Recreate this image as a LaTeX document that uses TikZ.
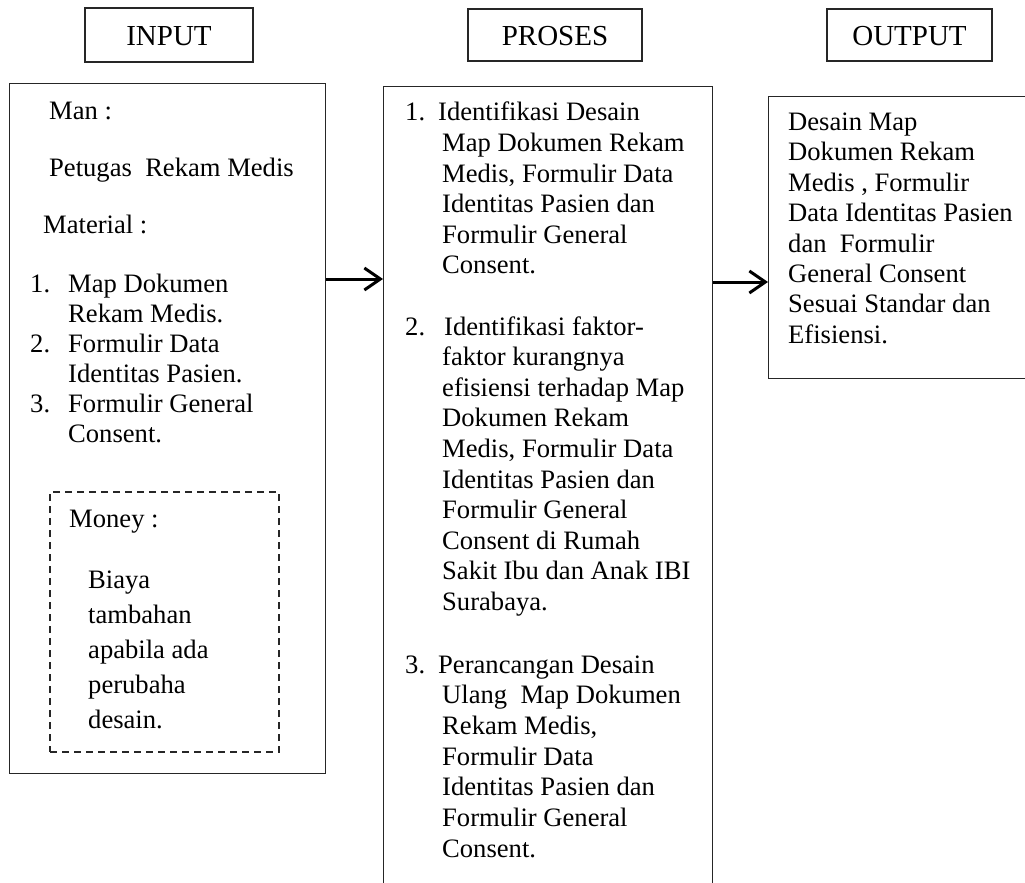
\documentclass[tikz,border=0pt]{standalone}
\usepackage{fontspec}
\setmainfont{Liberation Serif}
\usetikzlibrary{arrows.meta}
\begin{document}
\begin{tikzpicture}[x=1pt,y=-1pt,
 box/.style={draw=black!85, line width=1.3pt, inner sep=0pt, anchor=north west},
 titlebox/.style={draw=black!85, line width=1.3pt, inner sep=0pt, text height=21pt, text depth=0pt, font=\fontsize{29}{33}\selectfont},
 txt/.style={inner sep=0pt, anchor=base west, font=\fontsize{26.6}{30}\selectfont},
 arr/.style={line width=3pt, -{Straight Barb[length=16pt,width=22pt,line width=3pt]}}
]
\useasboundingbox (0,0) rectangle (1025,883);
\clip (0,0) rectangle (1025,883);

% titles
\node[titlebox, minimum width=168pt, minimum height=54pt] (tin) at (169,35) {INPUT};
\node[titlebox, minimum width=174pt, minimum height=52pt] (tpr) at (555,35) {PROSES};
\node[titlebox, minimum width=165pt, minimum height=52pt] (tout) at (909.5,35) {OUTPUT};

% boxes
\node[box, minimum width=316pt, minimum height=690pt] (inbox) at (9,83) {};
\node[box, line width=2pt, dash pattern=on 7pt off 5pt, minimum width=229pt, minimum height=260pt] (money) at (49,491) {};
\node[box, minimum width=329pt, minimum height=830pt] (prbox) at (383,86) {};
\node[box, minimum width=300pt, minimum height=282pt] (outbox) at (768,96) {};

% arrows
\draw[arr] ([yshift=-196pt]inbox.north east) -- ([yshift=-193pt]prbox.north west);
\draw[arr] ([yshift=-196pt]prbox.north east) -- ([yshift=-186pt]outbox.north west);

% input text
\node[txt] (man) at (49,119) {Man :};
\node[txt] (pet) at (49,176) {Petugas\ \ Rekam Medis};
\node[txt] (mat) at (43,233) {Material :};
\node[txt] (in1) at (30,292) {1.};
\node[txt] (in2) at (30,352) {2.};
\node[txt] (in3) at (30,412) {3.};
\foreach \t [count=\i] in {{Map Dokumen},{Rekam Medis.},{Formulir Data},{Identitas Pasien.},{Formulir General},{Consent.}}
  \node[txt] (inl\i) at (68,{262+\i*30}) {\t};

% money
\node[txt] (mon) at (69,527) {Money :};
\foreach \t [count=\i] in {{Biaya},{tambahan},{apabila ada},{perubaha},{desain.}}
  \node[txt] (monl\i) at (88,{553+\i*35}) {\t};

% proses text
\node[txt] (pn1) at (405,120) {1.};
\node[txt] (pn2) at (405,335) {2.};
\node[txt] (pn3) at (405,673) {3.};
\node[txt] (pa0) at (438,120) {Identifikasi Desain};
\foreach \t [count=\i] in {{Map Dokumen Rekam},{Medis, Formulir Data},{Identitas Pasien dan},{Formulir General},{Consent.}}
  \node[txt] (pa\i) at (442,{121+\i*30.5}) {\t};
\node[txt] (pb0) at (444,335) {Identifikasi faktor-};
\foreach \t [count=\i] in {{faktor kurangnya},{efisiensi terhadap Map},{Dokumen Rekam},{Medis, Formulir Data},{Identitas Pasien dan},{Formulir General},{Consent di Rumah},{Sakit Ibu dan Anak IBI},{Surabaya.}}
  \node[txt] (pb\i) at (442,{335+\i*30.6}) {\t};
\node[txt] (pc0) at (438,673) {Perancangan Desain};
\foreach \t [count=\i] in {{Ulang\ \ Map Dokumen},{Rekam Medis,},{Formulir Data},{Identitas Pasien dan},{Formulir General},{Consent.}}
  \node[txt] (pc\i) at (442,{673+\i*30.7}) {\t};

% output text
\foreach \t [count=\i] in {{Desain Map},{Dokumen Rekam},{Medis , Formulir},{Data Identitas Pasien},{dan\ \ Formulir},{General Consent},{Sesuai Standar dan},{Efisiensi.}}
  \node[txt] (ol\i) at (788,{100+\i*30.4}) {\t};
\end{tikzpicture}
\end{document}
